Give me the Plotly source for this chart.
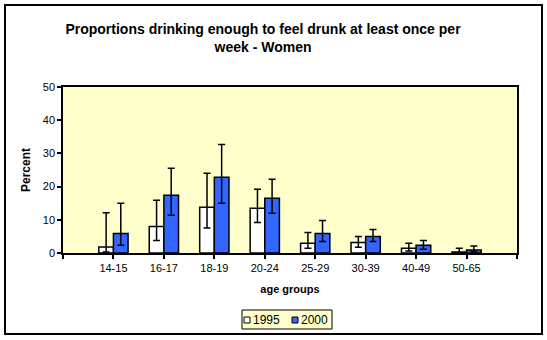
import plotly.graph_objects as go

categories = ["14-15", "16-17", "18-19", "20-24", "25-29", "30-39", "40-49", "50-65"]
series_names = ["1995", "2000"]
values_1995 = [1.8, 8.0, 13.8, 13.5, 2.9, 3.2, 1.4, 0.3]
upper_1995 = [12.1, 15.9, 24.0, 19.2, 6.2, 5.0, 2.9, 1.4]
lower_1995 = [0.3, 3.8, 7.5, 9.2, 1.4, 1.7, 0.6, 0.0]
values_2000 = [5.9, 17.4, 22.8, 16.5, 5.9, 5.0, 2.3, 0.9]
upper_2000 = [15.0, 25.5, 32.7, 22.2, 9.8, 7.1, 3.8, 2.1]
lower_2000 = [2.3, 11.4, 15.0, 12.0, 3.5, 3.5, 1.1, 0.3]
y_ticks = [0, 10, 20, 30, 40, 50]

W, H = 547, 340
L, R, T, B = 63, 30, 87, 87
PW, PH = W - L - R, H - T - B

def px(xp):
    return (xp - L) / PW

def py(yp):
    return (H - B - yp) / PH

FONT = "Liberation Sans, Arial, sans-serif"
xs = list(range(len(categories)))

fig = go.Figure()
specs = [
    (series_names[0], values_1995, upper_1995, lower_1995, "#FFFFFF"),
    (series_names[1], values_2000, upper_2000, lower_2000, "#3366FF"),
]
for name, vals, up, lo, color in specs:
    fig.add_trace(go.Bar(
        x=xs, y=vals, name=name,
        marker=dict(color=color, line=dict(color="black", width=1.5)),
        error_y=dict(type="data", symmetric=False,
                     array=[u - v for u, v in zip(up, vals)],
                     arrayminus=[v - l for v, l in zip(vals, lo)],
                     color="black", thickness=1.5, width=3.5),
        showlegend=False,
    ))

fig.update_layout(
    width=W, height=H,
    margin=dict(l=L, r=R, t=T, b=B),
    paper_bgcolor="white",
    plot_bgcolor="#FFFFCC",
    barmode="group", bargap=0.42, bargroupgap=0,
    font=dict(family=FONT, size=11, color="black"),
    title=dict(text="<b>Proportions drinking enough to feel drunk at least once per<br>week - Women</b>",
               x=263 / W, xanchor="center", xref="container",
               y=1 - 34 / H, yanchor="middle", yref="container",
               font=dict(size=14, family=FONT)),
    xaxis=dict(
        range=[-1, len(categories)],
        tickmode="array",
        tickvals=[-1] + xs + [len(categories)],
        ticktext=[""] + categories + [""],
        ticks="outside", ticklen=4, tickwidth=1.5, tickcolor="black",
        showline=True, linecolor="black", linewidth=1.5, mirror=True,
        showgrid=False, zeroline=False,
        tickfont=dict(size=11),
        title=dict(text="<b>age groups</b>", font=dict(size=11), standoff=12),
    ),
    yaxis=dict(
        range=[0, 50],
        tickmode="array", tickvals=y_ticks,
        ticks="outside", ticklen=4, tickwidth=1.5, tickcolor="black",
        showline=True, linecolor="black", linewidth=1.5, mirror=True,
        showgrid=False, zeroline=False,
        tickfont=dict(size=11),
        title=dict(text="<b>Percent</b>", font=dict(size=12), standoff=10),
    ),
)

shapes = [
    # outer chart frame
    dict(type="rect", xref="paper", yref="paper",
         x0=px(5), x1=px(542), y0=py(334), y1=py(5),
         line=dict(color="black", width=2), fillcolor="rgba(0,0,0,0)", layer="above"),
    # legend box
    dict(type="rect", xref="paper", yref="paper",
         x0=px(242), x1=px(332), y0=py(329), y1=py(310),
         line=dict(color="black", width=1), fillcolor="#FFFFCC", layer="above"),
    dict(type="rect", xref="paper", yref="paper",
         x0=px(244), x1=px(250), y0=py(323), y1=py(317),
         line=dict(color="black", width=1), fillcolor="#FFFFFF", layer="above"),
    dict(type="rect", xref="paper", yref="paper",
         x0=px(292), x1=px(298), y0=py(323), y1=py(317),
         line=dict(color="black", width=1), fillcolor="#3366FF", layer="above"),
]
annotations = [
    dict(text=series_names[0], xref="paper", yref="paper", x=px(251), y=py(320),
         xanchor="left", yanchor="middle", showarrow=False, font=dict(size=12)),
    dict(text=series_names[1], xref="paper", yref="paper", x=px(299), y=py(320),
         xanchor="left", yanchor="middle", showarrow=False, font=dict(size=12)),
]
fig.update_layout(shapes=shapes, annotations=annotations)

fig.write_html("out.html")
